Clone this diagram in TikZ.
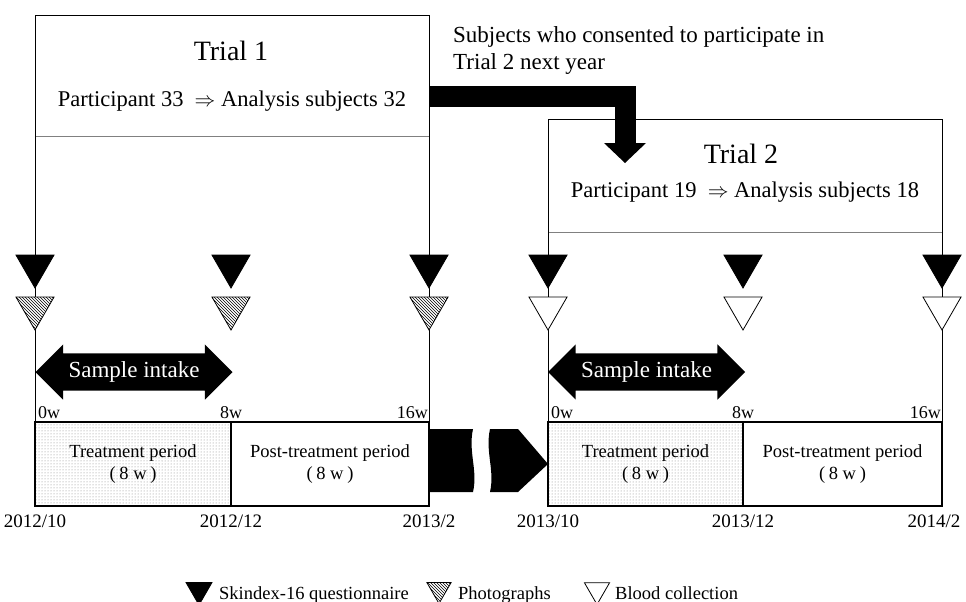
\documentclass[tikz,border=0pt]{standalone}
\usepackage{fontspec}
\setmainfont{Liberation Serif}
\usetikzlibrary{shapes.geometric,shapes.arrows,patterns,positioning}

\newcommand{\fsz}[1]{\fontsize{#1}{1.2\dimexpr#1pt\relax}\selectfont}

\tikzset{
  tri/.style={regular polygon, regular polygon sides=3, shape border rotate=180,
    inner sep=0pt, outer sep=0pt, minimum size=44pt, draw=black, line width=0.8pt},
  skin/.style={tri, fill=black},
  photo/.style={tri, preaction={fill=white}, pattern=north west lines},
  blood/.style={tri, fill=white},
  frame/.style={line width=0.9pt},
  period/.style={draw, line width=1.3pt, minimum height=84pt, inner sep=0pt,
    outer sep=0pt, align=center, font=\fontsize{18.5}{22}\selectfont},
  treat/.style={period, pattern=dots, pattern color=gray},
  week/.style={font=\fsz{18}, inner sep=3pt},
  date/.style={font=\fsz{19}, inner sep=0pt},
  intake/.style={double arrow, fill=black, text=white, font=\fsz{23},
    minimum height=197pt, double arrow head extend=9pt, inner xsep=2pt,
    inner ysep=8pt, text height=16pt, text depth=5pt},
  title/.style={font=\fsz{28}, inner sep=0pt},
  count/.style={font=\fsz{22.5}, inner sep=0pt},
  legend/.style={font=\fsz{18.5}, inner sep=0pt}
}

\begin{document}
\begin{tikzpicture}[x=1pt, y=-1pt]
  \useasboundingbox (0,0) rectangle (966,602);

  % Trial 1
  \node[minimum width=394pt, minimum height=121pt, inner sep=0pt, outer sep=0pt,
    anchor=north west] (trial1) at (35,15) {};
  \node[title, anchor=base] (title1) at (231,61) {Trial 1};
  \node[count, anchor=base] (count1) at (232,106)
    {Participant 33~~$\Rightarrow$ Analysis subjects 32};
  \draw[gray, line width=0.6pt] (trial1.south west) -- (trial1.south east);

  % Trial 2
  \node[minimum width=394pt, minimum height=113pt, inner sep=0pt, outer sep=0pt,
    anchor=north west] (trial2) at (548,119) {};
  \node[title, anchor=base] (title2) at (741,163) {Trial 2};
  \node[count, anchor=base] (count2) at (745,197)
    {Participant 19~~$\Rightarrow$ Analysis subjects 18};
  \draw[gray, line width=0.6pt] (trial2.south west) -- (trial2.south east);

  % Periods
  \node[treat, minimum width=196pt, anchor=north west] (treat1) at (35,422)
    {Treatment period\\(\hspace{0.2em}8 w\hspace{0.2em})};
  \node[period, minimum width=198pt, right=0pt of treat1] (post1)
    {Post-treatment period\\(\hspace{0.2em}8 w\hspace{0.2em})};
  \node[treat, minimum width=195pt, anchor=north west] (treat2) at (548,422)
    {Treatment period\\(\hspace{0.2em}8 w\hspace{0.2em})};
  \node[period, minimum width=199pt, right=0pt of treat2] (post2)
    {Post-treatment period\\(\hspace{0.2em}8 w\hspace{0.2em})};

  % Frame lines
  \draw[frame] (treat1.north west) -- (trial1.north west) -- (trial1.north east) -- (post1.north east);
  \draw[frame] (treat2.north west) -- (trial2.north west) -- (trial2.north east) -- (post2.north east);

  % Questionnaire, photographs, blood
  \foreach \x in {35,231,429} {
    \node[skin] (q1-\x) at (\x,266) {};
    \node[photo] (p1-\x) at (\x,308) {};
  }
  \foreach \x in {548,743,942} {
    \node[skin] (q2-\x) at (\x,266) {};
    \node[blood] (b2-\x) at (\x,308) {};
  }

  % Sample intake
  \node[intake] (intake1) at (134,372) {Sample intake};
  \node[intake] (intake2) at (646.5,372) {Sample intake};

  % Weeks
  \node[week, anchor=south west] (w0a) at (treat1.north west) {0w};
  \node[week, anchor=south] (w8a) at (treat1.north east) {8w};
  \node[week, anchor=south east, inner xsep=1pt] (w16a) at (post1.north east) {16w};
  \node[week, anchor=south west] (w0b) at (treat2.north west) {0w};
  \node[week, anchor=south] (w8b) at (treat2.north east) {8w};
  \node[week, anchor=south east, inner xsep=1pt] (w16b) at (post2.north east) {16w};

  % Dates
  \node[date, below=9pt of treat1.south west] (d1) {2012/10};
  \node[date, below=9pt of treat1.south east] (d2) {2012/12};
  \node[date, below=9pt of post1.south east] (d3) {2013/2};
  \node[date, below=9pt of treat2.south west] (d4) {2013/10};
  \node[date, below=9pt of treat2.south east] (d5) {2013/12};
  \node[date, below=9pt of post2.south east, xshift=-8pt] (d6) {2014/2};

  % Consent arrow
  \node[count, font=\fsz{23}, align=left, anchor=north west] (consent) at (453,26)
    {Subjects who consented to participate in\\Trial 2 next year};
  \coordinate (bend) at (625,143);
  \draw[line width=21pt] (trial1.east |- 0,96.5) -| (bend);
  \fill (bend) ++(-21,0) -- ++(42,0) -- ++(-21,20) -- cycle;

  % Next year break
  \fill (post1.east |- 0,429) -- (473,429) .. controls (468,452) and (478,470) .. (473,492)
    -- (post1.east |- 0,492) -- cycle;
  \fill (490,429) .. controls (485,452) and (495,470) .. (490,492) -- (518,492)
    -- (treat2.west) -- (518,429) -- cycle;

  % Legend
  \node[skin, minimum size=30pt] (lg1) at (199,590) {};
  \node[legend, anchor=base west] (lt1) at (219,599) {Skindex-16 questionnaire};
  \node[photo, minimum size=28pt] (lg2) at (439,589.5) {};
  \node[legend, anchor=base west] (lt2) at (458,599) {Photographs};
  \node[blood, minimum size=29pt] (lg3) at (597,590) {};
  \node[legend, anchor=base west] (lt3) at (615,599) {Blood collection};
\end{tikzpicture}
\end{document}
